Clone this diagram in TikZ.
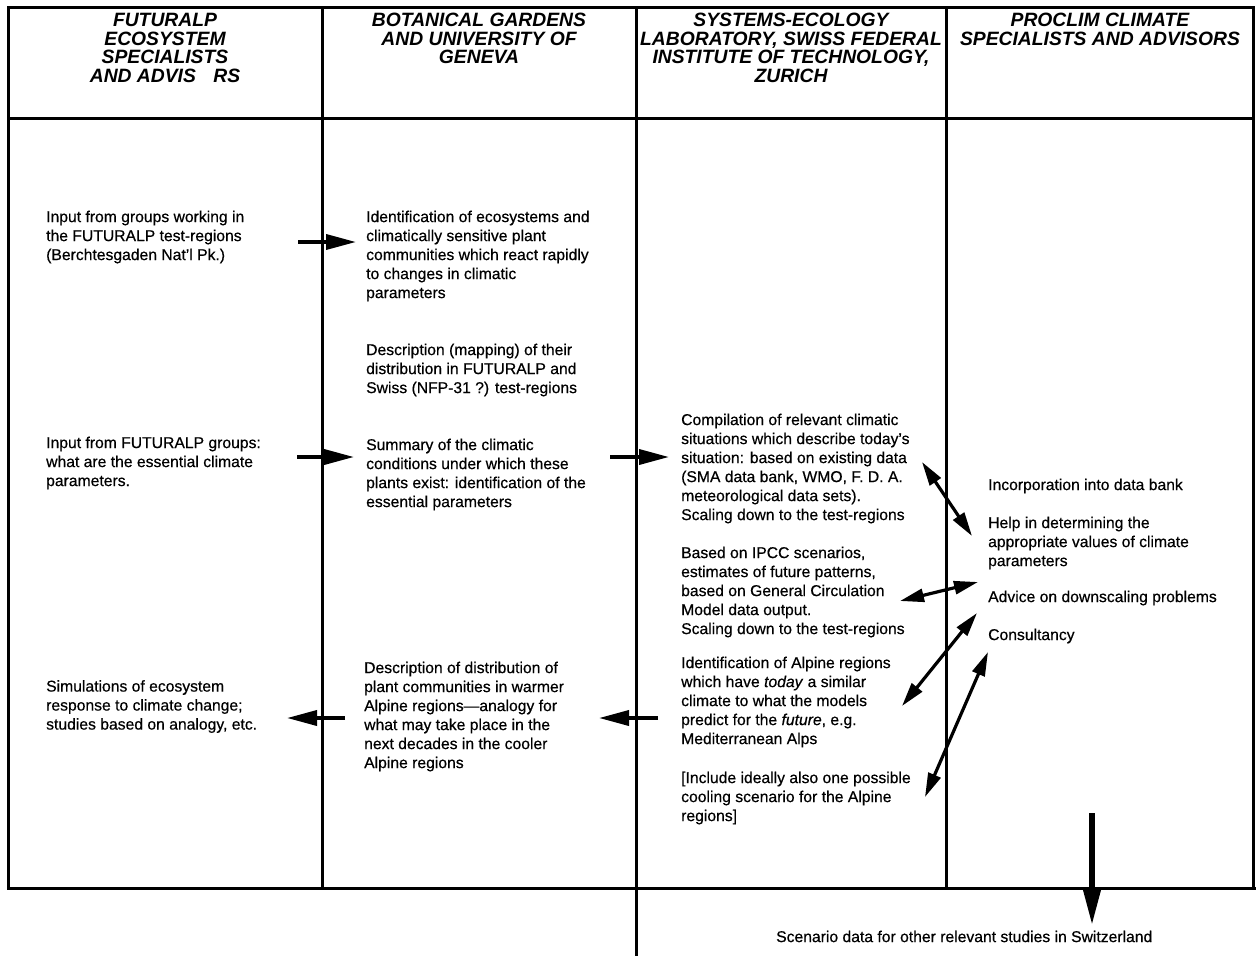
\documentclass[tikz,border=0pt]{standalone}
\usepackage{fontspec}
\setmainfont{Liberation Sans}
\newfontfamily\scanfont{Liberation Sans}[FakeBold=0.5,Ligatures=TeX]
\usetikzlibrary{arrows.meta}
\begin{document}
\begin{tikzpicture}[x=1pt,y=-1pt,
  grid/.style={line width=3pt,line cap=rect},
  body/.style={anchor=north west,inner sep=0pt,align=left,font=\scanfont\fontsize{15.7}{19}\selectfont},
  head/.style={anchor=north,inner sep=0pt,align=center,font=\fontsize{19.3}{18.6}\selectfont\bfseries\itshape},
  flow/.style={line width=3.6pt,-{Triangle[length=30pt,width=15pt]}},
  both/.style={line width=3.2pt,{Triangle[length=24pt,width=13pt]}-{Triangle[length=24pt,width=13pt]}},
  down/.style={line width=6.5pt,-{Triangle[length=38pt,width=17pt]}}]
\useasboundingbox[fill=white] (0,0) rectangle (1256,956);
% grid
\draw[grid] (8,7) -- (1253,7);
\draw[grid] (8,118) -- (1253,118);
\draw[grid] (8,888) -- (1256,888);
\draw[grid] (8,7) -- (8,888);
\draw[grid] (322,7) -- (322,888);
\draw[grid] (636,7) -- (636,956);
\draw[grid] (946,7) -- (946,888);
\draw[grid] (1253,7) -- (1253,888);
% headers
\node[head] (h1) at (165,13) {FUTURALP\\ECOSYSTEM\\SPECIALISTS\\AND ADVIS\hspace{0.9em}RS};
\node[head] (h2) at (479,13) {BOTANICAL GARDENS\\AND UNIVERSITY OF\\GENEVA};
\node[head] (h3) at (791,13) {SYSTEMS-ECOLOGY\\LABORATORY, SWISS FEDERAL\\INSTITUTE OF TECHNOLOGY,\\ZURICH};
\node[head] (h4) at (1100,13) {PROCLIM CLIMATE\\SPECIALISTS AND ADVISORS};
% column 1
\node[body] (a1) at (46,210.5) {Input from groups working in\\the FUTURALP test-regions\\(Berchtesgaden Nat'l Pk.)};
\node[body] (a2) at (46,436.5) {Input from FUTURALP groups:\\what are the essential climate\\parameters.};
\node[body] (a3) at (46,680) {Simulations of ecosystem\\response to climate change;\\studies based on analogy, etc.};
% column 2
\node[body] (b1) at (366,210.5) {Identification of ecosystems and\\climatically sensitive plant\\communities which react rapidly\\to changes in climatic\\parameters};
\node[body] (b2) at (366,343.5) {Description (mapping) of their\\distribution in FUTURALP and\\Swiss (NFP-31 ?) test-regions};
\node[body] (b3) at (366,438.5) {Summary of the climatic\\conditions under which these\\plants exist: identification of the\\essential parameters};
\node[body] (b4) at (364,661.5) {Description of distribution of\\plant communities in warmer\\Alpine regions—analogy for\\what may take place in the\\next decades in the cooler\\Alpine regions};
% column 3
\node[body] (c1) at (681,413.5) {Compilation of relevant climatic\\situations which describe today's\\situation: based on existing data\\(SMA data bank, WMO, F.\ D.\ A.\\meteorological data sets).\\Scaling down to the test-regions};
\node[body] (c2) at (681,546.5) {Based on IPCC scenarios,\\estimates of future patterns,\\based on General Circulation\\Model data output.\\Scaling down to the test-regions};
\node[body] (c3) at (681,656.5) {Identification of Alpine regions\\which have \textit{today} a similar\\climate to what the models\\predict for the \textit{future}, e.g.\\Mediterranean Alps};
\node[body] (c4) at (681,771.5) {[Include ideally also one possible\\cooling scenario for the Alpine\\regions]};
% column 4
\node[body] (d1) at (988,478.5) {Incorporation into data bank};
\node[body] (d2) at (988,516.5) {Help in determining the\\appropriate values of climate\\parameters};
\node[body] (d3) at (988,590.5) {Advice on downscaling problems};
\node[body] (d4) at (988,628.5) {Consultancy};
% bottom
\node[body] (e1) at (776,930.5) {Scenario data for other relevant studies in Switzerland};
% arrow end points
\coordinate (p1s) at (298,242); \coordinate (p1e) at (356,242);
\coordinate (p2s) at (297,457); \coordinate (p2e) at (354,457);
\coordinate (p3s) at (610,457); \coordinate (p3e) at (669,457);
\coordinate (p4s) at (345,718); \coordinate (p4e) at (287,718);
\coordinate (p5s) at (658,718); \coordinate (p5e) at (599,718);
\coordinate (q1a) at (922,462); \coordinate (q1b) at (972,536);
\coordinate (q2a) at (900,601); \coordinate (q2b) at (978,582);
\coordinate (q3a) at (902,706); \coordinate (q3b) at (977,613);
\coordinate (q4a) at (925,797); \coordinate (q4b) at (988,652);
\coordinate (r1s) at (1092,813); \coordinate (r1e) at (1092,926);
\draw[flow] (p1s) -- (p1e);
\draw[flow] (p2s) -- (p2e);
\draw[flow] (p3s) -- (p3e);
\draw[flow] (p4s) -- (p4e);
\draw[flow] (p5s) -- (p5e);
\draw[both] (q1a) -- (q1b);
\draw[both] (q2a) -- (q2b);
\draw[both] (q3a) -- (q3b);
\draw[both] (q4a) -- (q4b);
\draw[down] (r1s) -- (r1e);
\end{tikzpicture}
\end{document}
